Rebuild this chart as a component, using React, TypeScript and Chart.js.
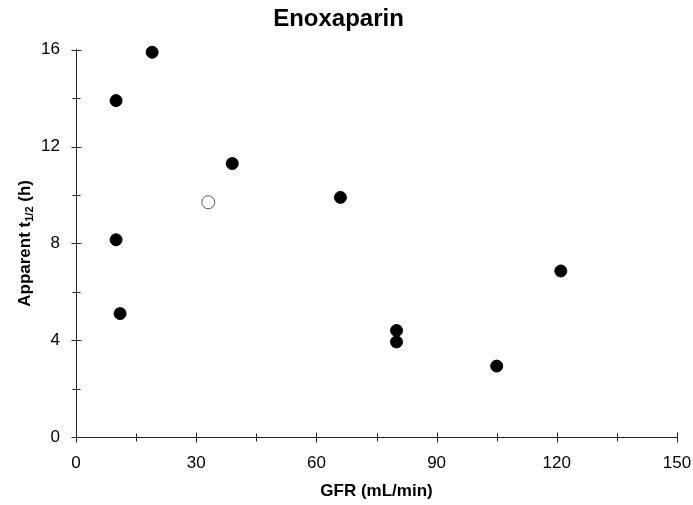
import React, { useEffect, useRef } from "react";
import { Chart, registerables } from "chart.js";

Chart.register(...registerables);

const TITLE = "Enoxaparin";
const X_TITLE = "GFR (mL/min)";
const Y_TITLE_MAIN = "Apparent t";
const Y_TITLE_SUB = "1/2";
const Y_TITLE_END = " (h)";

const FILLED_GFR = [10, 19, 10, 11, 39, 66, 80, 80, 105, 121];
const FILLED_T12 = [13.9, 15.9, 8.15, 5.1, 11.3, 9.9, 4.4, 3.93, 2.93, 6.86];
const OPEN_GFR = [33];
const OPEN_T12 = [9.7];

const X_MIN = 0;
const X_MAX = 150;
const X_STEP = 15;
const X_LABEL_STEP = 30;
const Y_MIN = 0;
const Y_MAX = 16;
const Y_STEP = 2;
const Y_LABEL_STEP = 4;

const FONT = "'Liberation Sans', Arial, sans-serif";

const axisDecor = {
  id: "axisDecor",
  afterDraw(chart: any) {
    const { ctx, scales } = chart;
    const x = scales.x;
    const y = scales.y;
    const yb = Math.round(y.getPixelForValue(Y_MIN)) + 0.5;
    const xl = Math.round(x.getPixelForValue(X_MIN)) + 0.5;
    ctx.save();
    ctx.strokeStyle = "#222";
    ctx.lineWidth = 1;
    ctx.beginPath();
    x.ticks.forEach((t: any) => {
      const major = t.value % X_LABEL_STEP === 0;
      const len = major ? 5 : 4;
      const px = Math.round(x.getPixelForValue(t.value)) + 0.5;
      ctx.moveTo(px, yb - len);
      ctx.lineTo(px, yb + len);
    });
    y.ticks.forEach((t: any) => {
      const major = t.value % Y_LABEL_STEP === 0;
      const len = major ? 5 : 4;
      const py = Math.round(y.getPixelForValue(t.value)) + 0.5;
      ctx.moveTo(xl - len, py);
      ctx.lineTo(xl + len, py);
    });
    ctx.stroke();

    // Y axis title with subscript
    const cy = (chart.chartArea.top + chart.chartArea.bottom) / 2;
    const cx = 25;
    ctx.translate(cx, cy);
    ctx.rotate(-Math.PI / 2);
    ctx.fillStyle = "#000";
    ctx.textBaseline = "middle";
    ctx.textAlign = "left";
    const mainFont = `bold 17px ${FONT}`;
    const subFont = `bold 11px ${FONT}`;
    ctx.font = mainFont;
    const w1 = ctx.measureText(Y_TITLE_MAIN).width;
    const w3 = ctx.measureText(Y_TITLE_END).width;
    ctx.font = subFont;
    const w2 = ctx.measureText(Y_TITLE_SUB).width;
    let sx = -(w1 + w2 + w3) / 2;
    ctx.font = mainFont;
    ctx.fillText(Y_TITLE_MAIN, sx, 0);
    sx += w1;
    ctx.font = subFont;
    ctx.fillText(Y_TITLE_SUB, sx, 5);
    sx += w2;
    ctx.font = mainFont;
    ctx.fillText(Y_TITLE_END, sx, 0);
    ctx.restore();
  },
};

export default function App() {
  const ref = useRef<HTMLCanvasElement | null>(null);

  useEffect(() => {
    if (!ref.current) return;
    const chart = new Chart(ref.current, {
      type: "scatter",
      data: {
        datasets: [
          {
            label: "filled",
            data: FILLED_GFR.map((g, i) => ({ x: g, y: FILLED_T12[i] })),
            pointRadius: 6,
            pointBorderWidth: 1,
            backgroundColor: "#000",
            borderColor: "#000",
            clip: false,
          },
          {
            label: "open",
            data: OPEN_GFR.map((g, i) => ({ x: g, y: OPEN_T12[i] })),
            pointRadius: 6.5,
            pointBorderWidth: 1,
            backgroundColor: "#fff",
            borderColor: "#555",
            clip: false,
          },
        ],
      },
      options: {
        responsive: false,
        animation: false,
        layout: { padding: { left: 0, right: 16, top: 0, bottom: 0 } },
        plugins: {
          legend: { display: false },
          tooltip: { enabled: false },
          title: {
            display: true,
            text: TITLE,
            color: "#000",
            font: { family: FONT, size: 24, weight: "bold" },
            padding: { top: 5, bottom: 16 },
          },
        },
        scales: {
          x: {
            type: "linear",
            min: X_MIN,
            max: X_MAX,
            grid: { display: false, drawTicks: false },
            border: { display: true, color: "#222", width: 1 },
            ticks: {
              stepSize: X_STEP,
              padding: 16,
              color: "#000",
              font: { family: FONT, size: 17 },
              maxRotation: 0,
              autoSkip: false,
              callback: (v: any) => (Number(v) % X_LABEL_STEP === 0 ? String(v) : ""),
            },
            title: {
              display: true,
              text: X_TITLE,
              color: "#000",
              font: { family: FONT, size: 17, weight: "bold" },
              padding: { top: 0, bottom: 3 },
            },
            afterFit: (s: any) => {
              s.height = 68;
              s.paddingLeft = 0;
              s.paddingRight = 0;
            },
          },
          y: {
            type: "linear",
            min: Y_MIN,
            max: Y_MAX,
            grid: { display: false, drawTicks: false },
            border: { display: true, color: "#222", width: 1 },
            ticks: {
              stepSize: Y_STEP,
              padding: 16,
              color: "#000",
              font: { family: FONT, size: 17 },
              autoSkip: false,
              callback: (v: any) => (Number(v) % Y_LABEL_STEP === 0 ? String(v) : ""),
            },
            afterFit: (s: any) => {
              s.width = 76;
              s.paddingTop = 0;
              s.paddingBottom = 0;
            },
          },
        },
      },
      plugins: [axisDecor],
    });
    return () => chart.destroy();
  }, []);

  return (
    <div style={{ position: "absolute", left: 0, top: 0, width: 693, height: 505, background: "#fff" }}>
      <canvas ref={ref} width={693} height={505} style={{ display: "block" }} />
    </div>
  );
}
